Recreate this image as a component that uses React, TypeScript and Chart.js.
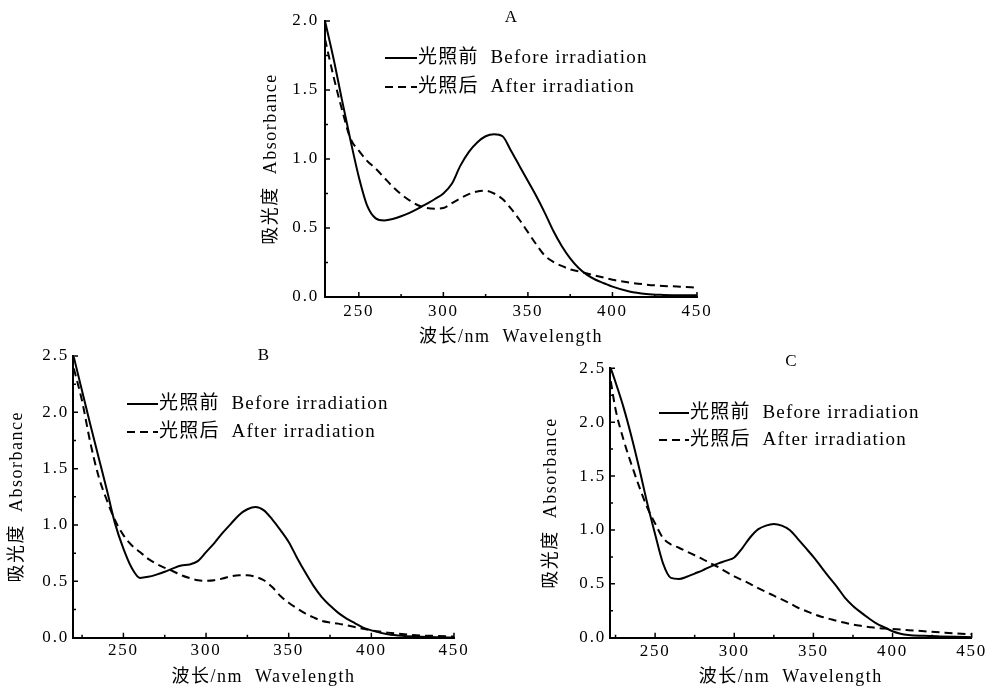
import React, { useEffect, useRef } from 'react';
import { Chart, registerables } from 'chart.js';

Chart.register(...registerables);

// ---------- data ----------
const xTicks = [250, 300, 350, 400, 450];
const xMinorTicks = [225, 275, 325, 375, 425];
const yTicksA = [0, 0.5, 1.0, 1.5, 2.0];
const yMinorA = [0.25, 0.75, 1.25, 1.75];
const yTicksBC = [0, 0.5, 1.0, 1.5, 2.0, 2.5];
const yMinorBC = [0.25, 0.75, 1.25, 1.75, 2.25];

const seriesLabels = ['光照前  Before irradiation', '光照后  After irradiation'];
const panelTitles = ['A', 'B', 'C'];
const xAxisTitle = '波长/nm  Wavelength';
const yAxisTitle = '吸光度  Absorbance';

const wavelengthsA = [230, 235, 240, 245, 250, 255, 260, 265, 270, 275, 280, 285, 290, 295, 300, 305, 310, 315, 320, 325, 330, 335, 340, 345, 350, 355, 360, 365, 370, 375, 380, 385, 390, 395, 400, 410, 420, 430, 440, 450];
const beforeA = [2.0, 1.73, 1.43, 1.14, 0.87, 0.66, 0.57, 0.555, 0.565, 0.585, 0.61, 0.64, 0.675, 0.71, 0.75, 0.82, 0.95, 1.05, 1.12, 1.165, 1.18, 1.165, 1.06, 0.95, 0.84, 0.73, 0.61, 0.48, 0.37, 0.28, 0.21, 0.16, 0.125, 0.1, 0.075, 0.04, 0.022, 0.015, 0.012, 0.012];
const afterA = [1.87, 1.6, 1.36, 1.15, 1.06, 0.985, 0.93, 0.865, 0.8, 0.745, 0.7, 0.665, 0.645, 0.64, 0.645, 0.68, 0.715, 0.745, 0.765, 0.77, 0.75, 0.71, 0.64, 0.56, 0.47, 0.38, 0.3, 0.255, 0.225, 0.2, 0.185, 0.17, 0.155, 0.14, 0.125, 0.105, 0.09, 0.08, 0.075, 0.068];

const wavelengthsB = [220, 225, 230, 235, 240, 245, 250, 255, 260, 265, 270, 275, 280, 285, 290, 295, 300, 305, 310, 315, 320, 325, 330, 335, 340, 345, 350, 355, 360, 365, 370, 375, 380, 385, 390, 395, 400, 410, 420, 430, 440, 450];
const beforeB = [2.49, 2.19, 1.89, 1.6, 1.31, 1.01, 0.79, 0.62, 0.53, 0.54, 0.56, 0.585, 0.615, 0.64, 0.65, 0.68, 0.76, 0.84, 0.93, 1.01, 1.09, 1.14, 1.16, 1.13, 1.05, 0.955, 0.85, 0.71, 0.58, 0.46, 0.36, 0.285, 0.22, 0.17, 0.13, 0.09, 0.065, 0.03, 0.015, 0.008, 0.004, 0.002];
const afterB = [2.39, 2.1, 1.73, 1.43, 1.22, 1.04, 0.91, 0.82, 0.76, 0.7, 0.655, 0.62, 0.59, 0.555, 0.53, 0.51, 0.505, 0.51, 0.525, 0.545, 0.555, 0.555, 0.54, 0.51, 0.45, 0.37, 0.31, 0.26, 0.215, 0.18, 0.15, 0.135, 0.125, 0.11, 0.095, 0.08, 0.065, 0.045, 0.03, 0.02, 0.015, 0.01];

const wavelengthsC = [222, 225, 230, 235, 240, 245, 250, 255, 260, 265, 270, 275, 280, 285, 290, 295, 300, 305, 310, 315, 320, 325, 330, 335, 340, 345, 350, 355, 360, 365, 370, 375, 380, 385, 390, 395, 400, 405, 410, 420, 430, 440, 450];
const beforeC = [2.5, 2.37, 2.14, 1.87, 1.57, 1.25, 0.96, 0.69, 0.555, 0.545, 0.565, 0.595, 0.625, 0.66, 0.69, 0.715, 0.745, 0.83, 0.93, 1.005, 1.04, 1.055, 1.04, 1.0, 0.92, 0.835, 0.75, 0.655, 0.56, 0.47, 0.37, 0.295, 0.235, 0.18, 0.13, 0.095, 0.06, 0.037, 0.025, 0.017, 0.012, 0.008, 0.005];
const afterC = [2.38, 2.12, 1.84, 1.61, 1.4, 1.21, 1.06, 0.925, 0.865, 0.835, 0.8, 0.765, 0.73, 0.69, 0.655, 0.61, 0.57, 0.535, 0.5, 0.46, 0.425, 0.39, 0.355, 0.32, 0.28, 0.25, 0.22, 0.195, 0.175, 0.155, 0.138, 0.122, 0.11, 0.1, 0.09, 0.085, 0.08, 0.075, 0.07, 0.06, 0.05, 0.04, 0.031];

// ---------- styling / layout ----------
const FAMILY = "'Liberation Serif', 'Noto Sans CJK SC', serif";

type PanelCfg = {
  title: string;
  wl: number[];
  before: number[];
  after: number[];
  xMin: number;
  xMax: number;
  yMax: number;
  yTicks: number[];
  yMinor: number[];
  left: number; top: number; width: number; height: number;
  padTop: number; padRight: number;
  yAxisWidth: number; xAxisHeight: number;
  yTitlePad: number; xTitlePad: number;
  yTickPad: number; xTickPad: number;
  titleY: number;
  legendX: number; legendLen: number; legendY: number[];
};

const panels: PanelCfg[] = [
  {
    title: panelTitles[0], wl: wavelengthsA, before: beforeA, after: afterA,
    xMin: 230, xMax: 450, yMax: 2.0, yTicks: yTicksA, yMinor: yMinorA,
    left: 250, top: 0, width: 470, height: 350,
    padTop: 21, padRight: 23, yAxisWidth: 75, xAxisHeight: 53,
    yTitlePad: 10.9, xTitlePad: 2.2, yTickPad: 6, xTickPad: 4,
    titleY: 18, legendX: 60, legendLen: 32, legendY: [58, 87],
  },
  {
    title: panelTitles[1], wl: wavelengthsB, before: beforeB, after: afterB,
    xMin: 219.5, xMax: 450, yMax: 2.5, yTicks: yTicksBC, yMinor: yMinorBC,
    left: 0, top: 340, width: 470, height: 350,
    padTop: 16, padRight: 16, yAxisWidth: 73, xAxisHeight: 52.3,
    yTitlePad: 6.7, xTitlePad: 2.2, yTickPad: 4, xTickPad: 3,
    titleY: 16, legendX: 54, legendLen: 31, legendY: [64, 92],
  },
  {
    title: panelTitles[2], wl: wavelengthsC, before: beforeC, after: afterC,
    xMin: 221.5, xMax: 450, yMax: 2.5, yTicks: yTicksBC, yMinor: yMinorBC,
    left: 530, top: 340, width: 464, height: 350,
    padTop: 28.3, padRight: 22.3, yAxisWidth: 80, xAxisHeight: 52.3,
    yTitlePad: 10.9, xTitlePad: 2.2, yTickPad: 4, xTickPad: 3.5,
    titleY: 22, legendX: 49, legendLen: 30, legendY: [73, 100],
  },
];

const decorPlugin = {
  id: 'decor',
  beforeDraw(chart: any) {
    (chart.ctx as any).letterSpacing = '1.5px';
  },
  afterDatasetsDraw(chart: any) {
    (chart.ctx as any).letterSpacing = '1.8px';
  },
  afterDraw(chart: any, _args: any, o: any) {
    const ctx = chart.ctx as any;
    const { left, right, bottom } = chart.chartArea;
    const xs = chart.scales.x;
    const ys = chart.scales.y;
    ctx.save();
    ctx.letterSpacing = '0px';
    ctx.strokeStyle = '#000';
    ctx.lineWidth = 1.5;
    ctx.setLineDash([]);
    ctx.beginPath();
    for (const v of xTicks) {
      const p = xs.getPixelForValue(v);
      ctx.moveTo(p, bottom);
      ctx.lineTo(p, bottom - 5);
    }
    for (const v of xMinorTicks) {
      if (v <= xs.min || v >= xs.max) continue;
      const p = xs.getPixelForValue(v);
      ctx.moveTo(p, bottom);
      ctx.lineTo(p, bottom - 3);
    }
    for (const v of o.yTicks) {
      const p = ys.getPixelForValue(v);
      ctx.moveTo(left, p);
      ctx.lineTo(left + 5, p);
    }
    for (const v of o.yMinor) {
      const p = ys.getPixelForValue(v);
      ctx.moveTo(left, p);
      ctx.lineTo(left + 3, p);
    }
    ctx.stroke();

    // panel title
    ctx.fillStyle = '#000';
    ctx.font = `17px ${FAMILY}`;
    ctx.textAlign = 'center';
    ctx.textBaseline = 'middle';
    ctx.fillText(o.title, (left + right) / 2, o.titleY);

    // legend
    chart.data.datasets.forEach((ds: any, i: number) => {
      const y = o.legendY[i];
      const x0 = left + o.legendX;
      ctx.lineWidth = 2;
      ctx.setLineDash(ds.borderDash || []);
      ctx.beginPath();
      ctx.moveTo(x0, y);
      ctx.lineTo(x0 + o.legendLen, y);
      ctx.stroke();
      ctx.setLineDash([]);
      ctx.letterSpacing = '1.2px';
      ctx.font = `19px ${FAMILY}`;
      ctx.textAlign = 'left';
      ctx.fillText(ds.label, x0 + o.legendLen + 1, y);
      ctx.letterSpacing = '0px';
    });
    ctx.restore();
    ctx.letterSpacing = '0px';
  },
};

function Panel({ cfg }: { cfg: PanelCfg }) {
  const ref = useRef<HTMLCanvasElement | null>(null);
  useEffect(() => {
    if (!ref.current) return;
    const tickFont = { family: FAMILY, size: 17, lineHeight: 1.2 };
    const titleFont = { family: FAMILY, size: 18, lineHeight: 1.2 };
    const chart = new Chart(ref.current, {
      type: 'line',
      data: {
        datasets: [
          {
            label: seriesLabels[0],
            data: cfg.wl.map((x, i) => ({ x, y: cfg.before[i] })),
            borderColor: '#000',
            borderWidth: 2,
            borderDash: [],
            pointRadius: 0,
            fill: false,
            cubicInterpolationMode: 'monotone',
            clip: false,
          } as any,
          {
            label: seriesLabels[1],
            data: cfg.wl.map((x, i) => ({ x, y: cfg.after[i] })),
            borderColor: '#000',
            borderWidth: 2,
            borderDash: [8, 5],
            pointRadius: 0,
            fill: false,
            cubicInterpolationMode: 'monotone',
            clip: false,
          } as any,
        ],
      },
      options: {
        responsive: false,
        animation: false,
        events: [],
        layout: { padding: { left: 0, top: cfg.padTop, right: cfg.padRight, bottom: 0 } },
        scales: {
          x: {
            type: 'linear',
            min: cfg.xMin,
            max: cfg.xMax,
            afterBuildTicks: (s: any) => { s.ticks = xTicks.map((value) => ({ value })); },
            afterFit: (s: any) => { s.height = cfg.xAxisHeight; s.paddingLeft = 0; s.paddingRight = 0; },
            ticks: {
              autoSkip: false, maxRotation: 0, minRotation: 0,
              padding: cfg.xTickPad, color: '#000', font: tickFont, z: 1,
              callback: (v: any) => String(v),
            },
            grid: { display: false, drawTicks: false },
            border: { display: true, color: '#000', width: 2 },
            title: { display: true, text: xAxisTitle, color: '#000', font: titleFont, padding: { top: 0, bottom: cfg.xTitlePad } },
          },
          y: {
            type: 'linear',
            min: 0,
            max: cfg.yMax,
            afterBuildTicks: (s: any) => { s.ticks = cfg.yTicks.map((value) => ({ value })); },
            afterFit: (s: any) => { s.width = cfg.yAxisWidth; s.paddingTop = 0; s.paddingBottom = 0; },
            ticks: {
              padding: cfg.yTickPad, color: '#000', font: tickFont, z: 1,
              callback: (v: any) => Number(v).toFixed(1),
            },
            grid: { display: false, drawTicks: false },
            border: { display: true, color: '#000', width: 2 },
            title: { display: true, text: yAxisTitle, color: '#000', font: titleFont, padding: { top: cfg.yTitlePad, bottom: 0 } },
          },
        },
        plugins: {
          legend: { display: false },
          title: { display: false },
          tooltip: { enabled: false },
          decor: {
            title: cfg.title, yTicks: cfg.yTicks, yMinor: cfg.yMinor,
            titleY: cfg.titleY, legendX: cfg.legendX, legendLen: cfg.legendLen, legendY: cfg.legendY,
          },
        } as any,
      },
      plugins: [decorPlugin as any],
    } as any);
    return () => chart.destroy();
  }, [cfg]);
  return (
    <canvas
      ref={ref}
      width={cfg.width}
      height={cfg.height}
      style={{ position: 'absolute', left: cfg.left, top: cfg.top, width: cfg.width, height: cfg.height }}
    />
  );
}

export default function App() {
  return (
    <div style={{ position: 'absolute', left: 0, top: 0, width: 994, height: 690, background: '#fff', overflow: 'hidden' }}>
      {panels.map((p) => (
        <Panel key={p.title} cfg={p} />
      ))}
    </div>
  );
}
